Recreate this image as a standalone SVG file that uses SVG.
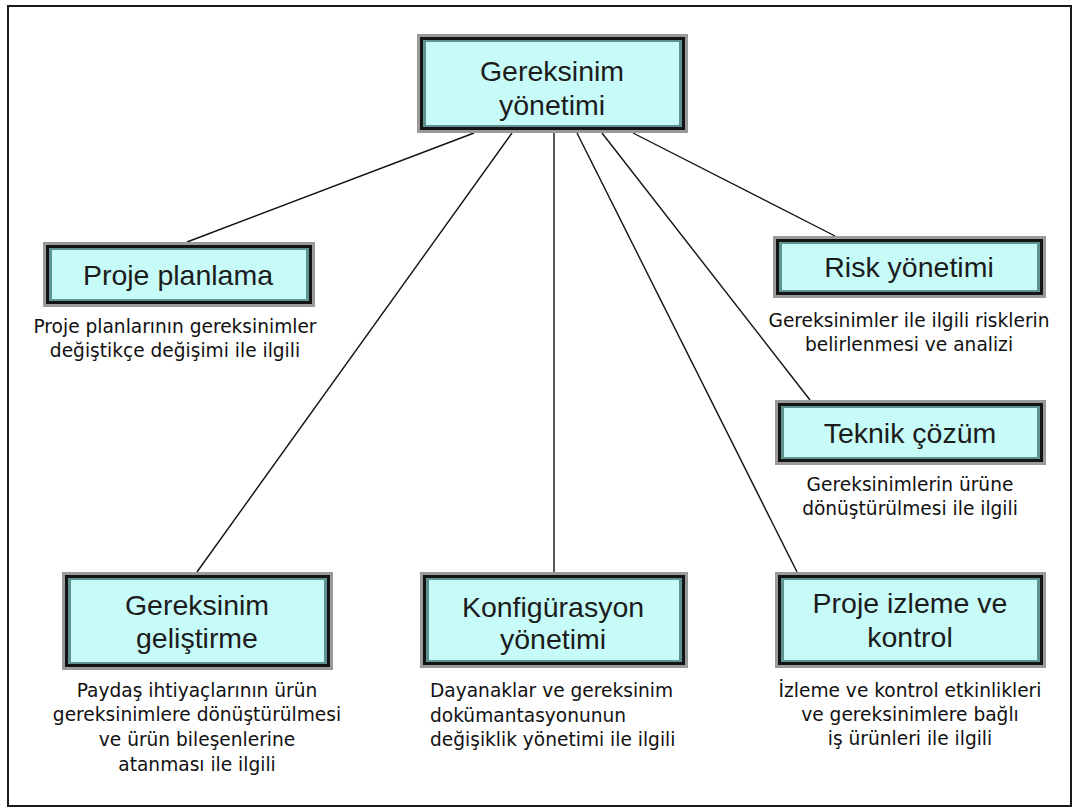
<svg xmlns="http://www.w3.org/2000/svg" width="1078" height="808" viewBox="0 0 1078 808">
  <style>
    .frame { fill: #ffffff; stroke: #1a1a1a; stroke-width: 2; }
    .b1 { fill: #9a9a9a; }
    .b2 { fill: #141414; }
    .b3 { fill: #5f9391; }
    .b4 { fill: #c6fbf8; }
    .title { font-family: "Liberation Sans", Arial, sans-serif; font-size: 28.5px; fill: #1c1c1c; text-anchor: middle; }
    .desc { font-family: "DejaVu Sans", Verdana, sans-serif; font-size: 18.6px; fill: #111111; text-anchor: middle; }
    .descl { font-family: "DejaVu Sans", Verdana, sans-serif; font-size: 18.6px; fill: #111111; }
    .link { stroke: #111111; stroke-width: 1.4; fill: none; }
  </style>

  <rect class="frame" x="8" y="6" width="1063" height="800"/>

  <!-- connectors from the central node to each area -->
  <g id="connectors">
    <line class="link" x1="474" y1="133" x2="187" y2="242"/>
    <line class="link" x1="512" y1="133" x2="197" y2="572"/>
    <line class="link" x1="554" y1="133" x2="554" y2="572"/>
    <line class="link" x1="577" y1="133" x2="797" y2="572"/>
    <line class="link" x1="602" y1="133" x2="810" y2="400"/>
    <line class="link" x1="633" y1="133" x2="835" y2="236"/>
  </g>

  <g id="gereksinim-yonetimi">
    <rect class="b1" x="417" y="34" width="271" height="99"/>
    <rect class="b2" x="420" y="37" width="265" height="93"/>
    <rect class="b3" x="423" y="40" width="259" height="87"/>
    <rect class="b4" x="426" y="42" width="253" height="83"/>
    <text class="title" x="552" y="81">Gereksinim</text>
    <text class="title" x="552" y="115">yönetimi</text>
  </g>

  <g id="proje-planlama">
    <rect class="b1" x="43" y="242" width="272" height="65"/>
    <rect class="b2" x="46" y="245" width="266" height="59"/>
    <rect class="b3" x="49" y="248" width="260" height="53"/>
    <rect class="b4" x="52" y="250" width="254" height="49"/>
    <text class="title" x="178" y="285">Proje planlama</text>
    <text class="desc" x="175" y="333">Proje planlarının gereksinimler</text>
    <text class="desc" x="175" y="357">değiştikçe değişimi ile ilgili</text>
  </g>

  <g id="risk-yonetimi">
    <rect class="b1" x="773" y="236" width="273" height="62"/>
    <rect class="b2" x="776" y="239" width="267" height="56"/>
    <rect class="b3" x="779" y="242" width="261" height="50"/>
    <rect class="b4" x="782" y="244" width="255" height="46"/>
    <text class="title" x="909" y="277">Risk yönetimi</text>
    <text class="desc" x="909" y="327">Gereksinimler ile ilgili risklerin</text>
    <text class="desc" x="909" y="351">belirlenmesi ve analizi</text>
  </g>

  <g id="teknik-cozum">
    <rect class="b1" x="775" y="400" width="271" height="65"/>
    <rect class="b2" x="778" y="403" width="265" height="59"/>
    <rect class="b3" x="781" y="406" width="259" height="53"/>
    <rect class="b4" x="784" y="408" width="253" height="49"/>
    <text class="title" x="910" y="443">Teknik çözüm</text>
    <text class="desc" x="910" y="491">Gereksinimlerin ürüne</text>
    <text class="desc" x="910" y="515">dönüştürülmesi ile ilgili</text>
  </g>

  <g id="gereksinim-gelistirme">
    <rect class="b1" x="62" y="572" width="271" height="98"/>
    <rect class="b2" x="65" y="575" width="265" height="92"/>
    <rect class="b3" x="68" y="578" width="259" height="86"/>
    <rect class="b4" x="71" y="580" width="253" height="82"/>
    <text class="title" x="197" y="615">Gereksinim</text>
    <text class="title" x="197" y="648">geliştirme</text>
    <text class="desc" x="197" y="697">Paydaş ihtiyaçlarının ürün</text>
    <text class="desc" x="197" y="721">gereksinimlere dönüştürülmesi</text>
    <text class="desc" x="197" y="746">ve ürün bileşenlerine</text>
    <text class="desc" x="197" y="771">atanması ile ilgili</text>
  </g>

  <g id="konfigurasyon-yonetimi">
    <rect class="b1" x="420" y="572" width="268" height="96"/>
    <rect class="b2" x="423" y="575" width="262" height="90"/>
    <rect class="b3" x="426" y="578" width="256" height="84"/>
    <rect class="b4" x="429" y="580" width="250" height="80"/>
    <text class="title" x="553" y="617">Konfigürasyon</text>
    <text class="title" x="553" y="649">yönetimi</text>
    <text class="descl" x="430" y="697">Dayanaklar ve gereksinim</text>
    <text class="descl" x="430" y="722">dokümantasyonunun</text>
    <text class="descl" x="430" y="746">değişiklik yönetimi ile ilgili</text>
  </g>

  <g id="proje-izleme-kontrol">
    <rect class="b1" x="775" y="572" width="271" height="96"/>
    <rect class="b2" x="778" y="575" width="265" height="90"/>
    <rect class="b3" x="781" y="578" width="259" height="84"/>
    <rect class="b4" x="784" y="580" width="253" height="80"/>
    <text class="title" x="910" y="613">Proje izleme ve</text>
    <text class="title" x="910" y="647">kontrol</text>
    <text class="desc" x="910" y="697">İzleme ve kontrol etkinlikleri</text>
    <text class="desc" x="910" y="721">ve gereksinimlere bağlı</text>
    <text class="desc" x="910" y="745">iş ürünleri ile ilgili</text>
  </g>
</svg>
